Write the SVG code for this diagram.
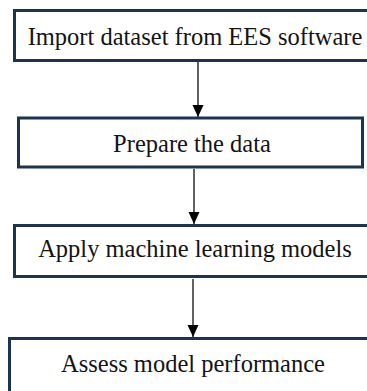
<svg xmlns="http://www.w3.org/2000/svg" width="367" height="391" viewBox="0 0 367 391">
<style>
.box{fill:#fff;stroke:#1d3352;stroke-width:3}
.lbl{font-family:"Liberation Serif","Times New Roman",serif;font-size:24.5px;fill:#141414;text-anchor:middle}
.conn{stroke:#3a3a3a;stroke-width:1.6;fill:none}
</style>
<defs>
<marker id="ah" viewBox="0 0 12 12" refX="12" refY="6" markerWidth="12" markerHeight="12" markerUnits="userSpaceOnUse" orient="auto">
<path d="M0,0.5 L12,6 L0,11.5 z" fill="#000"/>
</marker>
</defs>
<rect width="367" height="391" fill="#fff"/>
<g id="connectors">
<line class="conn" x1="198" y1="62" x2="198" y2="117" marker-end="url(#ah)"/>
<line class="conn" x1="194" y1="169" x2="194" y2="224" marker-end="url(#ah)"/>
<line class="conn" x1="193" y1="279" x2="193" y2="337" marker-end="url(#ah)"/>
</g>
<g id="n1">
<rect class="box" x="14.5" y="10.5" width="364" height="50"/>
<text class="lbl" x="195" y="45">Import dataset from EES software</text>
</g>
<g id="n2">
<rect class="box" x="18.5" y="118" width="344" height="49"/>
<text class="lbl" x="192" y="152">Prepare the data</text>
</g>
<g id="n3">
<rect class="box" x="14.5" y="225.5" width="364" height="51"/>
<text class="lbl" x="195" y="257">Apply machine learning models</text>
</g>
<g id="n4">
<rect class="box" x="9.5" y="338.5" width="370" height="60"/>
<text class="lbl" x="193" y="372">Assess model performance</text>
</g>
</svg>
